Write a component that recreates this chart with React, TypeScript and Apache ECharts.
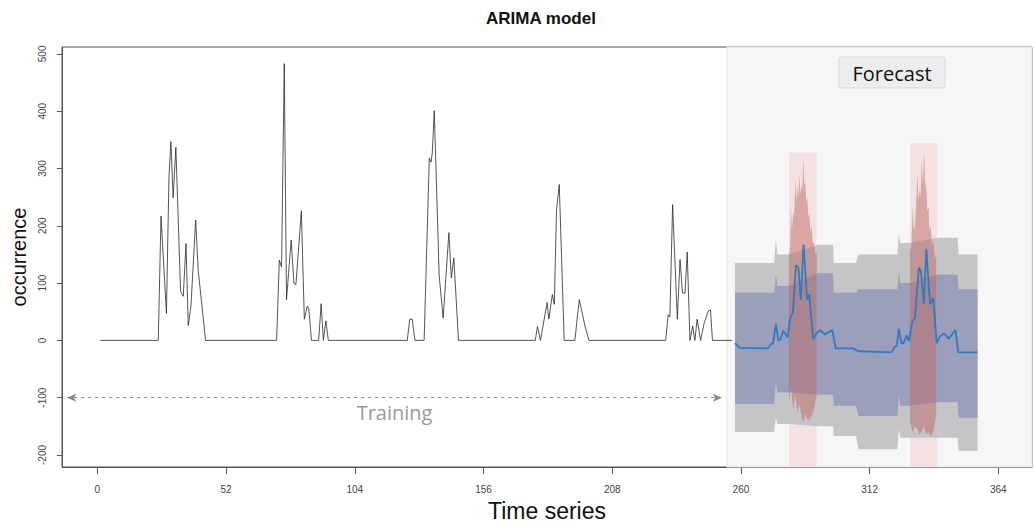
import React, { useEffect, useRef } from "react";
import * as echarts from "echarts";

// ---- axis ticks ----
const xTicks = [0, 52, 104, 156, 208, 260, 312, 364];
const yTicks = [-200, -100, 0, 100, 200, 300, 400, 500];

// ---- training series (time, occurrence) ----
const trainT = [1, 24.6, 25.7, 27.9, 28.9, 29.7, 30.6, 31.7, 33.6, 34.7, 35.8, 36.7, 37.8, 39.7, 40.7, 43.7,
  72.4, 73.5, 74.4, 75.5, 76.4, 78.3, 79.4, 80.2, 82.4, 83.6, 84.8, 85.4, 86.5, 89.4, 90.4, 91.3, 92.3, 93.3,
  125.2, 126.2, 127.2, 128.3, 132, 134.1, 134.8, 135.3, 136.1, 138.1, 139.7, 142, 143, 144, 145.9,
  176.9, 177.8, 179, 181.7, 182.4, 183.8, 184.6, 185.5, 186.6, 188.6, 192.9, 194.7, 197, 198.6,
  229.6, 230.6, 231.3, 232.4, 234.3, 235.4, 236.4, 237.4, 238.3, 239.4, 240.5, 241.4, 242.3, 243.7, 245.2, 246.8, 247.7, 248.5, 256.5];
const trainV = [0, 0, 217, 47, 283, 347, 249, 337, 86, 77, 169, 26, 60, 210, 124, 0,
  0, 140, 128, 483, 71, 175, 100, 97, 226, 37, 60, 55, 0, 0, 64, 0, 34, 0,
  0, 37, 37, 0, 0, 318, 311, 327, 401, 112, 39, 188, 109, 144, 0,
  0, 24, 0, 66, 37, 80, 63, 228, 272, 0, 0, 71, 25, 0,
  0, 45, 41, 237, 37, 141, 83, 82, 154, 0, 25, 0, 37, 0, 31, 51, 53, 0, 0];

// ---- forecast mean ----
const meanT = [257.6, 259.6, 271, 272, 273, 274.1, 275.1, 275.9, 277.1, 278.9, 279.9, 281, 282.2, 283.2, 284.2, 285.3,
  286.7, 287.6, 289.2, 290.6, 292.2, 293.9, 296.9, 298.3, 305.4, 307.4, 320.9, 322.2, 323, 323.8, 324.9, 325.7, 327,
  327.9, 329.2, 330.3, 331.9, 332.7, 333.9, 334.9, 336.4, 337.7, 339.1, 340.4, 342, 344, 346.7, 347.8, 355.6];
const meanV = [-5, -13, -14, -7, -5, 29, 0, 1, 17, 5, 40, 48, 131, 127, 71, 167,
  71, 80, 2, 13, 18, 10, 18, -14, -14, -19, -21, -11, -10, 20, -5, -5, 9,
  -1, 32, 40, 127, 121, 64, 160, 63, 74, -5, 7, 12, 3, 18, -21, -21];

// ---- prediction intervals ----
const bandT = [257.6, 273.4, 274.1, 274.8, 279.5, 291, 297.2, 297.5, 306.5, 307.5, 323.2, 323.8, 324.4, 328.3, 339.3, 347.5, 348, 355.6];
const innerUp = [83, 83, 115, 95, 95, 117, 117, 83, 83, 89, 89, 121, 100, 100, 115, 115, 89, 89];
const innerLo = [-111, -111, -74, -91, -91, -95, -95, -114, -114, -132, -132, -97, -114, -114, -108, -108, -135, -135];
const outerUp = [135, 135, 176, 150, 150, 167, 167, 135, 135, 150, 150, 185, 170, 170, 179, 179, 150, 150];
const outerLo = [-160, -160, -135, -146, -146, -150, -150, -167, -167, -190, -190, -155, -170, -170, -170, -170, -193, -193];

// ---- peak uncertainty fans ----
const fan1UpT = [279.4, 279.8, 280.2, 280.6, 281.1, 281.5, 282.0, 282.4, 282.8, 283.2, 283.6, 284.0, 284.4, 284.8, 285.2, 285.6, 286.0, 286.4, 286.8, 287.2, 287.6, 288.1, 288.6, 289.0, 289.5, 290.0, 290.6];
const fan1UpV = [164, 150, 234, 190, 225, 215, 283, 240, 270, 245, 292, 255, 270, 262, 321, 270, 275, 240, 251, 215, 222, 190, 199, 170, 170, 150, 153];
const fan1LoT = [279.4, 280.2, 281.1, 282.0, 282.8, 283.6, 284.4, 285.2, 286.0, 286.8, 287.6, 288.6, 289.5, 290.6];
const fan1LoV = [-109, -80, -120, -95, -126, -110, -130, -143, -128, -137, -140, -132, -120, -97];
const fan2UpT = [328.3, 328.9, 329.4, 329.9, 330.3, 330.8, 331.3, 331.7, 332.1, 332.6, 333.0, 333.5, 334.0, 334.4, 334.8, 335.3, 335.8, 336.2, 336.7, 337.2, 337.8, 338.3, 338.9];
const fan2UpV = [153, 170, 234, 190, 199, 240, 292, 245, 262, 250, 315, 270, 333, 265, 279, 225, 234, 190, 199, 165, 176, 140, 153];
const fan2LoT = [328.3, 329.4, 330.3, 331.3, 332.1, 333.0, 334.0, 334.8, 335.8, 336.7, 337.8, 338.9];
const fan2LoV = [-143, -161, -150, -155, -165, -158, -150, -165, -160, -168, -158, -130];

// ---- annotations ----
const stripeT = [[279.4, 290.6], [328.3, 339.3]];
const stripeTop = [328, 344];
const forecastStart = 254.3;
const arrowT = [-12.2, 252.3];
const arrowV = -100;

const xMin = -14.3;
const xMax = 377.6;
const yMin = -221;
const yMax = 512;

const narrow = "'Liberation Sans Narrow', 'Liberation Sans', Arial, sans-serif";
const sans = "'Liberation Sans', Arial, sans-serif";

function band(name: string, upT: number[], upV: number[], loT: number[], loV: number[], fill: string) {
  return {
    type: "custom",
    name,
    silent: true,
    clip: true,
    data: [[upT[0], upV[0]]],
    renderItem: (params: any, api: any) => {
      const pts: number[][] = upT.map((t, i) => api.coord([t, upV[i]]));
      for (let i = loT.length - 1; i >= 0; i--) pts.push(api.coord([loT[i], loV[i]]));
      return { type: "polygon", shape: { points: pts }, style: { fill } };
    },
  };
}

export default function App() {
  const ref = useRef<HTMLDivElement>(null);
  useEffect(() => {
    if (!ref.current) return;
    const chart = echarts.init(ref.current, null, { renderer: "svg" });
    const option: any = {
      animation: false,
      backgroundColor: "#ffffff",
      grid: { left: 62, right: 2, top: 47, bottom: 59, show: true, borderColor: "#555", borderWidth: 1 },
      xAxis: {
        type: "value",
        min: xMin,
        max: xMax,
        axisLine: { show: true, onZero: false, lineStyle: { color: "#555", width: 1 } },
        axisTick: { show: true, customValues: xTicks, length: 7, lineStyle: { color: "#555" } },
        axisLabel: { customValues: xTicks, margin: 17, fontSize: 10, color: "#444", fontFamily: narrow },
        splitLine: { show: false },
        name: "Time series",
        nameLocation: "middle",
        nameGap: 32,
        nameTextStyle: { fontSize: 23, color: "#111", fontFamily: sans },
      },
      yAxis: {
        type: "value",
        min: yMin,
        max: yMax,
        axisLine: { show: true, onZero: false, lineStyle: { color: "#555", width: 1 } },
        axisTick: { show: true, customValues: yTicks, length: 5, lineStyle: { color: "#555" } },
        axisLabel: { customValues: yTicks, rotate: 90, margin: 15, fontSize: 10, color: "#444", fontFamily: narrow },
        splitLine: { show: false },
        name: "occurrence",
        nameLocation: "middle",
        nameGap: 32,
        nameRotate: 90,
        nameTextStyle: { fontSize: 20, color: "#111", fontFamily: sans },
      },
      graphic: [
        {
          type: "text",
          x: 541,
          y: 18,
          style: { text: "ARIMA model", font: `bold 17px ${sans}`, fill: "#111", align: "center", verticalAlign: "middle" },
        },
        {
          type: "rect",
          z: 100,
          shape: { x: 839, y: 57, width: 106, height: 31, r: 2 },
          style: { fill: "#ededed", stroke: "#d9d9d9", lineWidth: 1 },
        },
        {
          type: "text",
          z: 101,
          x: 892,
          y: 73,
          style: { text: "Forecast", font: "20px 'Open Sans', sans-serif", fill: "#111", align: "center", verticalAlign: "middle" },
        },
      ],
      series: [
        {
          type: "line",
          name: "training",
          data: trainT.map((t, i) => [t, trainV[i]]),
          showSymbol: false,
          lineStyle: { color: "#2a2a2a", width: 0.8 },
          z: 3,
          markArea: {
            silent: true,
            data: [
              [{ xAxis: forecastStart, itemStyle: { color: "#f6f6f6", borderColor: "#e4e4e4", borderWidth: 1 } }, { xAxis: xMax }],
              ...stripeT.map((s, i) => [
                { xAxis: s[0], yAxis: stripeTop[i], itemStyle: { color: "#f4e2e2" } },
                { xAxis: s[1], yAxis: yMin },
              ]),
            ],
          },
          markLine: {
            silent: true,
            symbol: ["arrow", "arrow"],
            symbolSize: [6, 9],
            lineStyle: { type: [3, 4], color: "#888", width: 1 },
            label: {
              show: true,
              position: "insideMiddleBottom",
              formatter: "Training",
              fontSize: 20,
              color: "#9a9a9a",
              fontFamily: "'Open Sans', sans-serif",
              distance: 5,
            },
            data: [[{ coord: [arrowT[0], arrowV] }, { coord: [arrowT[1], arrowV] }]],
          },
        },
        band("outer", bandT, outerUp, bandT, outerLo, "#c5c5c7"),
        band("inner", bandT, innerUp, bandT, innerLo, "#9b9fbb"),
        band("fan1", fan1UpT, fan1UpV, fan1LoT, fan1LoV, "rgba(190,105,100,0.5)"),
        band("fan2", fan2UpT, fan2UpV, fan2LoT, fan2LoV, "rgba(190,105,100,0.5)"),
        {
          type: "line",
          name: "forecast",
          data: meanT.map((t, i) => [t, meanV[i]]),
          showSymbol: false,
          lineStyle: { color: "#2c7cc1", width: 1.8 },
          z: 4,
        },
      ],
    };
    chart.setOption(option);
    return () => chart.dispose();
  }, []);
  return (
    <div
      ref={ref}
      style={{ position: "fixed", left: 0, top: 0, width: 1034, height: 527, background: "#fff" }}
    />
  );
}
